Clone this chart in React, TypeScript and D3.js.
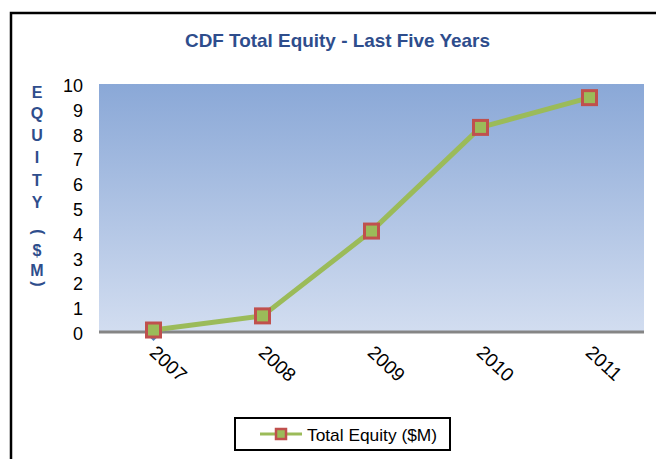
import React from "react";
import * as d3 from "d3";

const categories = ["2007", "2008", "2009", "2010", "2011"];
const equity = [0.08, 0.65, 4.07, 8.25, 9.45];
const yTicks = [0, 1, 2, 3, 4, 5, 6, 7, 8, 9, 10];
const yLabelChars = ["E", "Q", "U", "I", "T", "Y", "(", "$", "M", ")"];
const title = "CDF Total Equity - Last Five Years";
const seriesName = "Total Equity ($M)";

const W = 656, H = 459;
const plot = { left: 99, right: 644, top: 84, bottom: 332 };
const blue = "#2E4D8C";
const green = "#9BBB59";
const red = "#C0504D";

export default function App() {
  const x = d3.scaleBand().domain(categories).range([plot.left, plot.right]);
  const y = d3.scaleLinear().domain([0, 10]).range([plot.bottom, plot.top]);
  const cx = (c: string) => (x(c) as number) + x.bandwidth() / 2;
  const line = d3.line<number>().x((_, i) => cx(categories[i])).y(d => y(d));
  const yLabelY = [92, 113, 135, 157, 180, 202, 232, 250, 270, 284];

  return (
    <svg width={W} height={H} style={{ position: "absolute", left: 0, top: 0, fontFamily: "Liberation Sans, Arial, sans-serif" }}>
      <defs>
        <linearGradient id="bg" x1="0" y1="0" x2="0" y2="1">
          <stop offset="0" stopColor="#8AA8D7" />
          <stop offset="1" stopColor="#D2DDF0" />
        </linearGradient>
      </defs>
      <rect x={0} y={0} width={W} height={H} fill="#fff" />
      <path d={`M11,${H + 2} L11,13 L${W + 2},13`} fill="none" stroke="#000" strokeWidth={2.5} />
      <text x={337.5} y={47} textAnchor="middle" fontSize={19} fontWeight="bold" fill={blue} textLength={305} lengthAdjust="spacingAndGlyphs">{title}</text>
      {yLabelChars.map((ch, i) => {
        const isParen = ch === "(" || ch === ")";
        return isParen ? (
          <text key={i} x={37} y={yLabelY[i]} fontSize={16} fontWeight="bold" fill={blue} textAnchor="middle" dominantBaseline="middle" transform={`rotate(90 37 ${yLabelY[i]})`}>{ch}</text>
        ) : (
          <text key={i} x={37} y={yLabelY[i] + 6} fontSize={16} fontWeight="bold" fill={blue} textAnchor="middle">{ch}</text>
        );
      })}
      <rect x={plot.left} y={plot.top} width={plot.right - plot.left} height={plot.bottom - plot.top} fill="url(#bg)" />
      {yTicks.map(t => (
        <text key={t} x={83} y={y(t) + 8} fontSize={18} textAnchor="end" fill="#000" textLength={t === 10 ? 20 : 10} lengthAdjust="spacingAndGlyphs">{t}</text>
      ))}
      <line x1={plot.left} x2={plot.right} y1={plot.bottom} y2={plot.bottom} stroke="#858585" strokeWidth={3} />
      {categories.map(c => (
        <text key={c} x={cx(c) - 5} y={354} fontSize={19} fill="#000" transform={`rotate(43 ${cx(c) - 5} 354)`}>{c}</text>
      ))}
      <path d={`M${cx(categories[0])},${y(0) + 1} l4,4 l-4,4 l-4,-4 z`} fill="#4F81BD" />
      <path d={line(equity) || ""} fill="none" stroke={green} strokeWidth={5} strokeLinejoin="round" />
      {equity.map((v, i) => (
        <rect key={i} x={cx(categories[i]) - 7} y={y(v) - 7} width={14} height={14} fill={green} stroke={red} strokeWidth={3} />
      ))}
      <rect x={235} y={418} width={215} height={32} fill="#fff" stroke="#000" strokeWidth={2} />
      <line x1={260} x2={302} y1={434} y2={434} stroke={green} strokeWidth={3} />
      <rect x={276} y={429} width={10} height={10} fill={green} stroke={red} strokeWidth={2.5} />
      <text x={307} y={441} fontSize={17} fill="#000" textLength={130} lengthAdjust="spacingAndGlyphs">{seriesName}</text>
    </svg>
  );
}
